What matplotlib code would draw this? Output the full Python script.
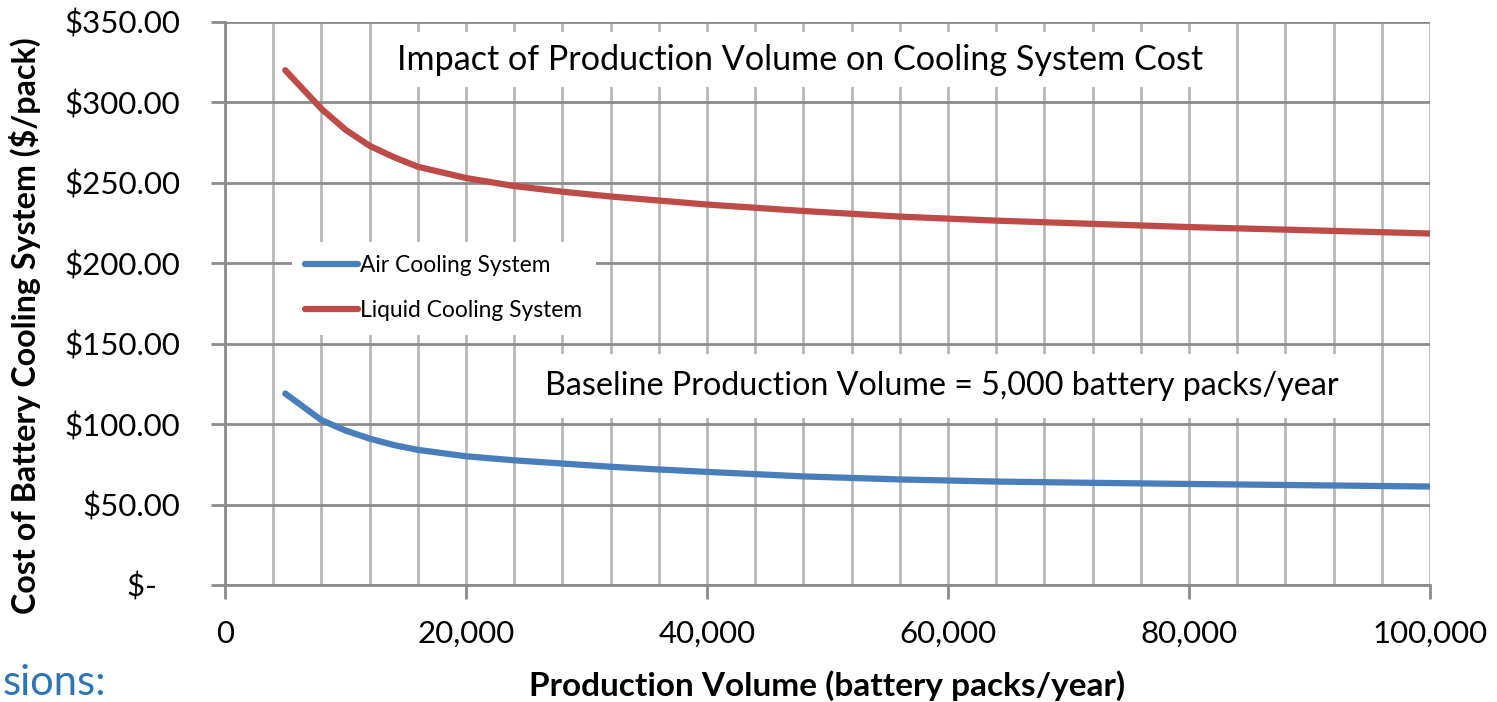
import matplotlib
matplotlib.use('Agg')
import matplotlib.pyplot as plt
from matplotlib.ticker import MultipleLocator, FuncFormatter

plt.rcParams['font.family'] = ['Lato', 'DejaVu Sans']

# production volume (battery packs/year)
volume = [5000, 6000, 7000, 8000, 10000, 12000, 14000, 16000, 20000, 24000, 28000,
          32000, 36000, 40000, 48000, 56000, 64000, 72000, 80000, 90000, 100000]
# cost of cooling system ($/pack)
air_cost = [119, 113.5, 108, 102.5, 96, 91, 87, 84, 80, 77.5, 75.5,
            73.5, 71.8, 70.3, 67.5, 65.6, 64.3, 63.5, 62.8, 62, 61.2]
liquid_cost = [320, 312, 304, 296, 283, 273, 266, 260, 253, 248, 244.5,
               241.5, 239, 236.5, 232.5, 229, 226.5, 224.5, 222.5, 220.5, 218.5]

series_labels = ['Air Cooling System', 'Liquid Cooling System']
title = 'Impact of Production Volume on Cooling System Cost'
note = 'Baseline Production Volume = 5,000 battery packs/year'

blue = '#4A7EBB'
red = '#BE4B48'

fig = plt.figure(figsize=(14.97, 7.02), dpi=100)
ax = fig.add_axes([0.1503, 0.1667, 0.8050, 0.8020])

ax.plot(volume, air_cost, color=blue, lw=4.5, solid_capstyle='round', label=series_labels[0], zorder=3)
ax.plot(volume, liquid_cost, color=red, lw=4.5, solid_capstyle='round', label=series_labels[1], zorder=3)

ax.set_xlim(0, 100000)
ax.set_ylim(0, 350)
ax.xaxis.set_major_locator(MultipleLocator(20000))
ax.xaxis.set_minor_locator(MultipleLocator(4000))
ax.yaxis.set_major_locator(MultipleLocator(50))
ax.xaxis.set_major_formatter(FuncFormatter(lambda v, p: f'{v:,.0f}'))
ax.yaxis.set_major_formatter(FuncFormatter(lambda v, p: '$-   ' if v == 0 else f'${v:,.2f}'))

ax.grid(True, axis='x', which='both', color='#b8b8b8', lw=2, zorder=0)
ax.grid(True, axis='y', which='major', color='#8c8c8c', lw=2, zorder=0)
ax.set_axisbelow(True)
for s in ['top', 'right']:
    ax.spines[s].set_visible(False)
for s in ['left', 'bottom']:
    ax.spines[s].set_color('#8c8c8c')
    ax.spines[s].set_linewidth(2)
ax.tick_params(axis='x', which='major', length=10, width=2, color='#8c8c8c', pad=15, labelsize=22.5)
ax.tick_params(axis='x', which='minor', length=0)
ax.tick_params(axis='y', length=10, width=2, color='#8c8c8c', pad=22, labelsize=22.5)

ax.set_xlabel('Production Volume (battery packs/year)', fontsize=24, fontweight='bold', labelpad=16)
ax.set_ylabel('Cost of Battery Cooling System ($/pack)', fontsize=23.2, fontweight='bold')
ax.yaxis.set_label_coords(-0.153, 0.46)

ax.text(0.4775, 0.933, title, transform=ax.transAxes, ha='center', va='center', fontsize=24.6,
        bbox=dict(facecolor='white', edgecolor='none', pad=8), zorder=2)
ax.text(0.595, 0.353, note, transform=ax.transAxes, ha='center', va='center', fontsize=23.2,
        bbox=dict(facecolor='white', edgecolor='none', pad=12), zorder=2)

leg = ax.legend(loc='upper left', bbox_to_anchor=(0.046, 0.63), fontsize=16.4, frameon=True,
                fancybox=False, edgecolor='none', handlelength=2.3, handletextpad=0.1,
                labelspacing=1.05, borderpad=0.6)
leg.get_frame().set_facecolor('white')
leg.get_frame().set_alpha(1)

fig.text(0.002, 0.01, 'sions:', color='#2E75B6', fontsize=30, ha='left', va='baseline')

fig.savefig('out.png', dpi=100)
